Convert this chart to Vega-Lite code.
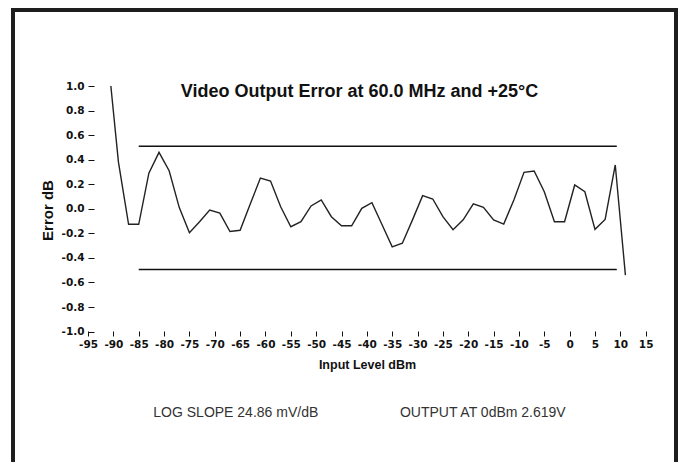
{
  "$schema": "https://vega.github.io/schema/vega-lite/v6.json",
  "autosize": "none",
  "padding": {"left": 13, "top": 10, "right": 10, "bottom": 0},
  "width": 663,
  "height": 454,
  "background": "white",
  "title": {
    "text": "Video Output Error at 60.0 MHz and +25°C",
    "subtitle": "LOG SLOPE 24.86 mV/dB\u00a0\u00a0\u00a0\u00a0\u00a0\u00a0\u00a0\u00a0\u00a0\u00a0\u00a0\u00a0\u00a0\u00a0\u00a0\u00a0\u00a0\u00a0\u00a0\u00a0\u00a0OUTPUT AT 0dBm 2.619V",
    "anchor": "middle",
    "frame": "group",
    "offset": -410,
    "dx": 15,
    "font": "Liberation Sans",
    "fontSize": 18,
    "fontWeight": "bold",
    "color": "#111111",
    "subtitleFont": "Liberation Sans",
    "subtitleFontSize": 14,
    "subtitleFontWeight": "normal",
    "subtitleColor": "#333333",
    "subtitlePadding": 305
  },
  "datasets": {
    "error": [
      {"dB": -90.5, "err": 1.0},
      {"dB": -89, "err": 0.38},
      {"dB": -87, "err": -0.126},
      {"dB": -85, "err": -0.126},
      {"dB": -83, "err": 0.29},
      {"dB": -81, "err": 0.46},
      {"dB": -79, "err": 0.31},
      {"dB": -77, "err": 0.01},
      {"dB": -75, "err": -0.195},
      {"dB": -73, "err": -0.105},
      {"dB": -71, "err": -0.01},
      {"dB": -69, "err": -0.035},
      {"dB": -67, "err": -0.185},
      {"dB": -65, "err": -0.175},
      {"dB": -63, "err": 0.04},
      {"dB": -61, "err": 0.25},
      {"dB": -59, "err": 0.226},
      {"dB": -57, "err": 0.017},
      {"dB": -55, "err": -0.146},
      {"dB": -53, "err": -0.105},
      {"dB": -51, "err": 0.023},
      {"dB": -49, "err": 0.072},
      {"dB": -47, "err": -0.064},
      {"dB": -45, "err": -0.138},
      {"dB": -43, "err": -0.138},
      {"dB": -41, "err": 0.004},
      {"dB": -39, "err": 0.05},
      {"dB": -37, "err": -0.13},
      {"dB": -35, "err": -0.31},
      {"dB": -33, "err": -0.28},
      {"dB": -31, "err": -0.09},
      {"dB": -29, "err": 0.107},
      {"dB": -27, "err": 0.08},
      {"dB": -25, "err": -0.064},
      {"dB": -23, "err": -0.17},
      {"dB": -21, "err": -0.09},
      {"dB": -19, "err": 0.04},
      {"dB": -17, "err": 0.012},
      {"dB": -15, "err": -0.09},
      {"dB": -13, "err": -0.124},
      {"dB": -11, "err": 0.072},
      {"dB": -9, "err": 0.297},
      {"dB": -7, "err": 0.308},
      {"dB": -5, "err": 0.139},
      {"dB": -3, "err": -0.105},
      {"dB": -1, "err": -0.105},
      {"dB": 1, "err": 0.194},
      {"dB": 3, "err": 0.139},
      {"dB": 5, "err": -0.167},
      {"dB": 7, "err": -0.086},
      {"dB": 9, "err": 0.357},
      {"dB": 11, "err": -0.54}
    ],
    "limits": [
      {"dB": -85, "dB_end": 9.3, "err": 0.51},
      {"dB": -85, "dB_end": 9.3, "err": -0.495}
    ]
  },
  "encoding": {
    "x": {
      "field": "dB", "type": "quantitative",
      "scale": {"domain": [-109.8, 20.98], "nice": false, "zero": false},
      "axis": {
        "values": [-95, -90, -85, -80, -75, -70, -65, -60, -55, -50, -45, -40, -35, -30, -25, -20, -15, -10, -5, 0, 5, 10, 15],
        "labelOverlap": false,
        "labelFlush": false,
        "labelBound": false,
        "offset": -133,
        "tickSize": 5,
        "labelPadding": 3,
        "title": "Input Level dBm",
        "titleFontSize": 12.5,
        "titleX": 354,
        "titlePadding": 9
      }
    },
    "y": {
      "field": "err", "type": "quantitative",
      "scale": {"domain": [-2.078, 1.619], "nice": false, "zero": false},
      "axis": {
        "values": [-1, -0.8, -0.6, -0.4, -0.2, 0, 0.2, 0.4, 0.6, 0.8, 1],
        "format": ".1f",
        "labelOverlap": false,
        "offset": -81,
        "tickSize": 6,
        "labelPadding": 4,
        "title": "Error dB",
        "titleFontSize": 15,
        "titleY": 200,
        "titlePadding": 6
      }
    }
  },
  "layer": [
    {
      "data": {"name": "error"},
      "mark": {"type": "line", "color": "#222222", "strokeWidth": 1.4}
    },
    {
      "data": {"name": "limits"},
      "mark": {"type": "rule", "color": "#111111", "strokeWidth": 1.5},
      "encoding": {
        "x2": {"field": "dB_end"}
      }
    }
  ],
  "config": {
    "locale": {"number": {"decimal": ".", "thousands": ",", "grouping": [3], "currency": ["$", ""], "minus": "-"}},
    "view": {"stroke": "#1e1e1e", "strokeWidth": 4, "fill": null},
    "axis": {
      "domain": false,
      "grid": false,
      "ticks": true,
      "labelOverlap": false,
      "tickColor": "#111111",
      "tickWidth": 1,
      "labelFont": "DejaVu Sans",
      "labelFontWeight": "bold",
      "labelFontSize": 10.5,
      "labelColor": "#111111",
      "titleFont": "Liberation Sans",
      "titleFontWeight": "bold",
      "titleColor": "#111111"
    }
  }
}
